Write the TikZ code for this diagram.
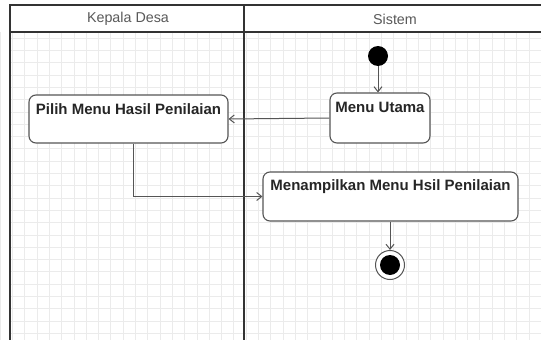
\documentclass[tikz,border=0pt]{standalone}
\usepackage{fontspec}
\setmainfont{Liberation Sans}
\usetikzlibrary{arrows.meta}
\definecolor{gridc}{HTML}{EBEBEB}
\definecolor{linec}{HTML}{333333}
\definecolor{boxc}{HTML}{555555}
\begin{document}
\begin{tikzpicture}[x=1pt,y=-1pt,
  lane/.style={draw=linec, line width=1.6pt},
  actbox/.style={draw=boxc, line width=1.1pt, rounded corners=7pt, fill=white, inner sep=0pt},
  acttext/.style={anchor=north, font=\bfseries\fontsize{15}{17}\selectfont, text=black!85, inner sep=0pt},
  flow/.style={draw=boxc, line width=1pt, -{Straight Barb[length=5pt,width=8pt]}},
  head/.style={font=\fontsize{14.3}{16}\selectfont, text=black!65}]
  \useasboundingbox (0,0) rectangle (541,340);
  \fill[white] (0,0) rectangle (541,340);
  % background grid
  \foreach \gx in {0,12.3,...,541} \draw[gridc, line width=0.6pt] (\gx,32) -- (\gx,340);
  \foreach \gy in {38,50.3,...,340} \draw[gridc, line width=0.6pt] (10,\gy) -- (541,\gy);
  % swimlane frame
  \draw[lane] (541,5) -- (10,5) -- (10,340);
  \draw[lane] (10,32) -- (541,32);
  \draw[lane] (244,5) -- (244,340);
  \node[head] (h1) at (128,19) {Kepala Desa};
  \node[head] (h2) at (395,19) {Sistem};
  % start node
  \node[circle, fill=black, minimum size=20pt, inner sep=0pt] (start) at (378,56) {};
  % activities
  \node[actbox, minimum width=100pt, minimum height=50pt] (mu) at (380,118) {};
  \node[acttext] (mut) at ([yshift=-10pt]mu.north) {Menu Utama};
  \node[actbox, minimum width=199pt, minimum height=48pt] (ph) at (128.5,119) {};
  \node[acttext] (pht) at ([yshift=-9pt]ph.north) {Pilih Menu Hasil Penilaian};
  \node[actbox, minimum width=255pt, minimum height=49pt] (mh) at (390.5,196.5) {};
  \node[acttext] (mht) at ([yshift=-8pt]mh.north) {Menampilkan Menu Hsil Penilaian};
  % final node
  \node[circle, draw=boxc, line width=1pt, fill=white, minimum size=29pt, inner sep=0pt] (fin) at (390,265) {};
  \node[circle, fill=black, minimum size=20pt, inner sep=0pt] (finin) at (fin.center) {};
  % flows
  \draw[flow] (start) -- (start |- mu.north);
  \draw[flow] (mu.west) -- (ph.east);
  \draw[flow] ([xshift=4.5pt]ph.south) |- (mh.west);
  \draw[flow] (mh.south -| fin.north) -- (fin.north);
\end{tikzpicture}
\end{document}
